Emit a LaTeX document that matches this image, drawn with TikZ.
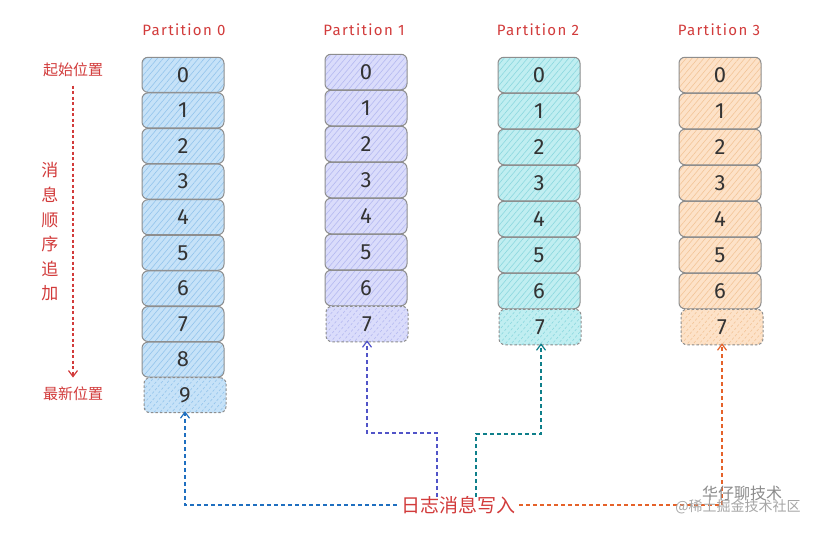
\documentclass[tikz,border=0pt]{standalone}
\usepackage{fontspec}
\setmainfont{Fira Sans}
\newfontfamily\cjk{Noto Sans CJK SC}
\newfontfamily\titlefont[LetterSpace=9]{Fira Sans}
\usetikzlibrary{arrows.meta,patterns.meta}
\definecolor{redtxt}{HTML}{D23B3B}
\definecolor{strokegray}{HTML}{8E8E8E}
\definecolor{fillA}{HTML}{C6E2F8}\definecolor{lineA}{HTML}{93C4EC}
\definecolor{fillB}{HTML}{DADCFB}\definecolor{lineB}{HTML}{B5B9F1}
\definecolor{fillC}{HTML}{C0EEF1}\definecolor{lineC}{HTML}{8CD8DF}
\definecolor{fillD}{HTML}{FDE2C8}\definecolor{lineD}{HTML}{F3C598}
\definecolor{arrA}{HTML}{1F6FC0}
\definecolor{arrB}{HTML}{5154C8}
\definecolor{arrC}{HTML}{0E7F8A}
\definecolor{arrD}{HTML}{E5622A}
\begin{document}
\begin{tikzpicture}[x=1pt,y=-1pt,
  cell/.style={draw=strokegray,line width=1pt,rounded corners=6pt,minimum width=82pt,minimum height=35pt,inner sep=0pt,
    font=\fontsize{22}{22}\selectfont,text=black!80},
  newcell/.style={dashed,dash pattern=on 2.5pt off 2pt},
  hatch/.style 2 args={preaction={fill=#1},pattern={Lines[angle=50,distance=4.5pt,line width=0.6pt]},pattern color=#2},
  ptitle/.style={text=redtxt,font=\titlefont\fontsize{15}{15}\selectfont},
  lbl/.style={text=redtxt,font=\cjk\fontsize{15}{15}\selectfont},
  conn/.style={dashed,dash pattern=on 4pt off 3pt,line width=1.2pt,-{Straight Barb[length=6pt,width=9pt,line width=1.2pt]}},
]
\useasboundingbox (0,0) rectangle (831,533);
\fill[white] (0,0) rectangle (831,533);

% titles
\node[ptitle] (t0) at (184,30) {Partition 0};
\node[ptitle] (t1) at (364,30) {Partition 1};
\node[ptitle] (t2) at (538,30) {Partition 2};
\node[ptitle] (t3) at (719,30) {Partition 3};

% partition 0
\foreach \i in {0,...,8}{
  \node[cell,hatch={fillA}{lineA}] (p0b\i) at (183,{74.8+35.6*\i}) {\i};
}
\node[cell,newcell,hatch={fillA}{lineA}] (p0b9) at (185,{74.8+35.6*9}) {9};

% partition 1
\foreach \i in {0,...,6}{
  \node[cell,minimum height=35.5pt,hatch={fillB}{lineB}] (p1b\i) at (366,{72+36*\i}) {\i};
}
\node[cell,minimum height=35.5pt,newcell,hatch={fillB}{lineB}] (p1b7) at (367,{72+36*7}) {7};

% partition 2
\foreach \i in {0,...,6}{
  \node[cell,minimum height=35.5pt,hatch={fillC}{lineC}] (p2b\i) at (539,{75+36*\i}) {\i};
}
\node[cell,minimum height=35.5pt,newcell,hatch={fillC}{lineC}] (p2b7) at (540,{75+36*7}) {7};

% partition 3
\foreach \i in {0,...,6}{
  \node[cell,minimum height=35.5pt,hatch={fillD}{lineD}] (p3b\i) at (720,{75+36*\i}) {\i};
}
\node[cell,minimum height=35.5pt,newcell,hatch={fillD}{lineD}] (p3b7) at (722,{75+36*7}) {7};

% left side labels
\node[lbl] (start) at (73,70) {起始位置};
\node[lbl] (latest) at (73,394) {最新位置};
\node[lbl,align=center,font=\cjk\fontsize{17}{24.6}\selectfont] (order) at (50,232) {消\\息\\顺\\序\\追\\加};
\draw[conn,draw=redtxt,dash pattern=on 3pt off 2.5pt,shorten <=5pt,shorten >=6pt] (start.south) -- (latest.north);

% write label
\node[lbl,font=\cjk\fontsize{19}{19}\selectfont,inner sep=4pt] (write) at (458,505) {日志消息写入};

% connectors
\coordinate (b1) at (437,497);
\coordinate (b1t) at (437,433);
\coordinate (c1) at (476,497);
\coordinate (c1t) at (476,434);
\draw[conn,draw=arrA] (write.west) -| ([yshift=2pt]p0b9.south);
\draw[conn,draw=arrB] (b1) -- (b1t) -| ([yshift=2pt]p1b7.south);
\draw[conn,draw=arrC] (c1) -- (c1t) -| ([xshift=1pt,yshift=2pt]p2b7.south);
\draw[conn,draw=arrD] (write.east) -| ([yshift=2pt]p3b7.south);

% watermark
\node[text=black!45,font=\cjk\fontsize{16}{16}\selectfont] (wm1) at (742,493) {华仔聊技术};
\node[text=black!35,font=\cjk\fontsize{14}{14}\selectfont] (wm2) at (738,507) {@稀土掘金技术社区};
\end{tikzpicture}
\end{document}
